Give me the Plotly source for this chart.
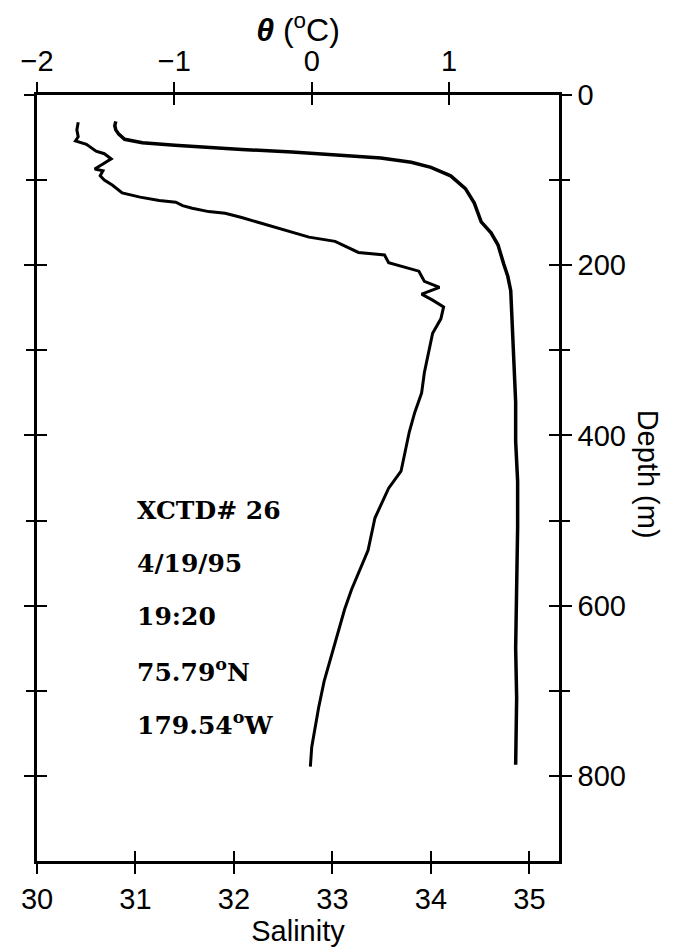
import plotly.graph_objects as go

# Salinity profile (right curve), depth in m
sal_depth = [31, 36, 41, 46, 52, 54, 56, 59, 62, 64, 67, 71, 74, 79, 85, 95, 110, 127,
             149, 162, 176, 199, 213, 230, 277, 315, 361, 407, 454, 508, 593, 650, 708, 755, 787]
salinity = [30.80, 30.79, 30.80, 30.83, 30.89, 30.97, 31.07, 31.40, 31.75, 32.08, 32.59, 33.09,
            33.49, 33.80, 34.00, 34.20, 34.35, 34.44, 34.51, 34.61, 34.68, 34.74, 34.78, 34.81,
            34.83, 34.84, 34.86, 34.86, 34.88, 34.88, 34.87, 34.86, 34.87, 34.86, 34.86]

# Potential temperature profile (left curve)
theta_depth = [32, 41, 49, 54, 58, 66, 69, 75, 81, 87, 89, 95, 100, 106, 115, 120, 124, 126,
               130, 133, 137, 139, 144, 155, 167, 172, 185, 188, 197, 207, 219, 226, 234, 241,
               249, 263, 280, 303, 326, 350, 373, 396, 419, 442, 462, 473, 497, 535, 554, 581,
               604, 627, 659, 689, 720, 747, 766, 789]
theta = [-1.70, -1.71, -1.70, -1.72, -1.64, -1.57, -1.51, -1.46, -1.52, -1.58, -1.52, -1.54,
         -1.51, -1.45, -1.38, -1.25, -1.11, -0.99, -0.94, -0.87, -0.75, -0.63, -0.51, -0.27,
         -0.02, 0.17, 0.34, 0.53, 0.56, 0.78, 0.82, 0.93, 0.80, 0.88, 0.96, 0.94, 0.88, 0.85,
         0.82, 0.80, 0.75, 0.71, 0.68, 0.65, 0.56, 0.53, 0.46, 0.41, 0.36, 0.29, 0.24, 0.20,
         0.14, 0.09, 0.05, 0.02, 0.00, -0.01]

sal_ticks = [30, 31, 32, 33, 34, 35]
theta_ticks = [-2, -1, 0, 1]
depth_major = [0, 200, 400, 600, 800]
depth_minor = [100, 300, 500, 700]
depth_all = [0, 100, 200, 300, 400, 500, 600, 700, 800]

info_lines = ["XCTD# 26", "4/19/95", "19:20", "75.79<sup>o</sup>N", "179.54<sup>o</sup>W"]
info_depths = [488, 551, 613, 676, 739]

SAL_RANGE = [30, 35.3]
THETA_RANGE = [-2, 1.8]
DEPTH_RANGE = [900, 0]

tick_font = dict(family="Liberation Sans, Arial", size=29, color="black")

fig = go.Figure()

fig.add_trace(go.Scatter(
    x=salinity, y=sal_depth, mode="lines", xaxis="x", yaxis="y",
    line=dict(color="black", width=3.5), showlegend=False, hoverinfo="skip"
))
fig.add_trace(go.Scatter(
    x=theta, y=theta_depth, mode="lines", xaxis="x2", yaxis="y",
    line=dict(color="black", width=3), showlegend=False, hoverinfo="skip"
))

# empty traces so the overlay axes (other half of the crossing ticks) get drawn
for xa, ya in [("x3", "y"), ("x4", "y"), ("x", "y2"), ("x", "y3")]:
    fig.add_trace(go.Scatter(x=[], y=[], xaxis=xa, yaxis=ya, showlegend=False))

# station info text
for txt, d in zip(info_lines, info_depths):
    fig.add_annotation(
        x=31.0, y=d, xref="x", yref="y", text=txt, showarrow=False,
        xanchor="left", yanchor="middle",
        font=dict(family="DejaVu Serif", size=25, color="black", weight="bold")
    )

# right-side axis title reading top to bottom
fig.add_annotation(
    x=(640 - 26) / 525, y=0.505, xref="paper", yref="paper", text="Depth (m)",
    showarrow=False, textangle=90, xanchor="center", yanchor="middle", font=tick_font
)

axis_common = dict(showgrid=False, zeroline=False, linecolor="black", tickcolor="black",
                   tickwidth=2, ticklen=10)

fig.update_layout(
    width=676, height=943,
    margin=dict(l=26, r=125, t=80, b=87),
    plot_bgcolor="white", paper_bgcolor="white",
    xaxis=dict(range=SAL_RANGE, tickvals=sal_ticks, ticks="outside", showline=True,
               linewidth=2.5, side="bottom", anchor="y", tickfont=tick_font,
               title=dict(text="Salinity", font=tick_font, standoff=4), **axis_common),
    xaxis3=dict(range=SAL_RANGE, tickvals=sal_ticks, ticks="inside", showline=False,
                overlaying="x", side="bottom", anchor="y", showticklabels=False, **axis_common),
    xaxis2=dict(range=THETA_RANGE, tickvals=theta_ticks, ticks="outside", showline=True,
                linewidth=2.5, overlaying="x", side="top", anchor="y", tickfont=tick_font,
                title=dict(text="<b><i>θ</i></b> (<sup>o</sup>C)",
                           font=dict(family="Liberation Sans, Arial", size=32, color="black"),
                           standoff=2),
                **axis_common),
    xaxis4=dict(range=THETA_RANGE, tickvals=theta_ticks, ticks="inside", showline=False,
                overlaying="x", side="top", anchor="y", showticklabels=False, **axis_common),
    yaxis=dict(range=DEPTH_RANGE, tickvals=depth_major,
               ticks="outside", showline=True, linewidth=2.5, mirror="ticks",
               side="right", anchor="x", tickfont=tick_font, **axis_common),
    yaxis2=dict(range=DEPTH_RANGE, tickvals=depth_all, ticks="inside", showline=False,
                mirror="ticks", overlaying="y", side="right", anchor="x",
                showticklabels=False, **axis_common),
    yaxis3=dict(range=DEPTH_RANGE, tickvals=depth_minor, ticks="outside", showline=False,
                mirror="ticks", overlaying="y", side="right", anchor="x",
                showticklabels=False, **axis_common),
)

fig.write_html("out.html")
